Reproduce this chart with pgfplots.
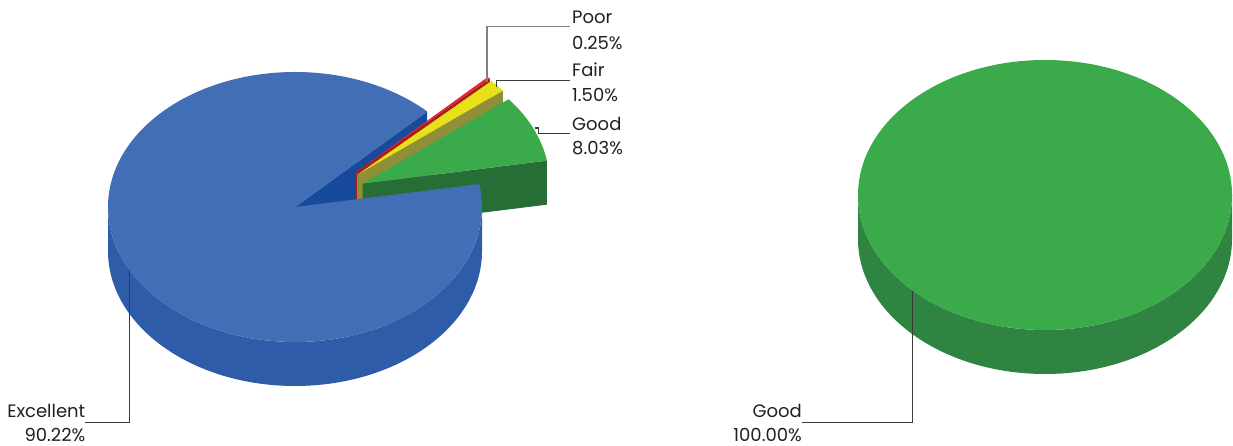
\documentclass[border=0pt]{standalone}
\usepackage{pgfplots}
\pgfplotsset{compat=1.18}
\usepackage{fontspec}
\setmainfont{Poppins}

\definecolor{bluetop}{HTML}{416EB4}
\definecolor{blueside}{HTML}{2E5CA8}
\definecolor{bluecut}{HTML}{184A9C}
\definecolor{greentop}{HTML}{3AAA4A}
\definecolor{greencut}{HTML}{276D36}
\definecolor{greenside}{HTML}{2F8442}
\definecolor{yellowtop}{HTML}{E6E118}
\definecolor{yellowcut}{HTML}{8F8F38}
\definecolor{redtop}{HTML}{E3262B}
\definecolor{redcut}{HTML}{A51E22}
\definecolor{txt}{HTML}{231F20}
\definecolor{lead}{HTML}{3A3A3A}

% pie geometry (pt), 1 axis unit = 1pt
\def\rx{187}
\def\ry{135}
\def\hh{44}

% top face of a wedge: offset ox,oy ; angles a..b ; colour
\newcommand{\wtop}[5]{%
  \fill[#5] (#1pt,#2pt) -- ++(#3:\rx pt and \ry pt)
    arc[start angle=#3, end angle=#4, x radius=\rx pt, y radius=\ry pt] -- cycle;}
% radial cut face at angle a
\newcommand{\wcut}[4]{%
  \fill[#4] (#1pt,#2pt) -- ++(#3:\rx pt and \ry pt) -- ++(0pt,-\hh pt)
    -- ++(#3+180:\rx pt and \ry pt) -- cycle;}
% outer wall between a..b
\newcommand{\wside}[3]{%
  \fill[#3] (#1:\rx pt and \ry pt)
    arc[start angle=#1, end angle=#2, x radius=\rx pt, y radius=\ry pt]
    -- ++(0pt,-\hh pt)
    arc[start angle=#2, end angle=#1, x radius=\rx pt, y radius=\ry pt] -- cycle;}

% shares in percent
\def\pExc{90.22}
\def\pGood{8.03}
\def\pFair{1.50}
\def\pPoor{0.25}

\pgfmathsetmacro\aA{45}
\pgfmathsetmacro\aB{\aA+3.6*\pExc}
\pgfmathsetmacro\aC{\aB+3.6*\pGood}
\pgfmathsetmacro\aD{\aC+3.6*\pFair}
\pgfmathsetmacro\aE{\aD+3.6*\pPoor}

\begin{document}
\begin{tikzpicture}
\begin{axis}[
  width=1233pt, height=446pt, scale only axis,
  xmin=0, xmax=1233, ymin=0, ymax=446,
  hide axis, clip=false,
]
\path (axis cs:0,0) rectangle (axis cs:1233,446);

% left pie
\begin{scope}[shift={(axis cs:295,239)}]
  \wcut{0}{0}{\aA}{bluecut}
  \wside{180}{360}{blueside}
  % Poor
  \wcut{60.5}{34.5}{\aD}{redcut}
  \wtop{60.5}{34.5}{\aD}{\aE}{redtop}
  % Fair
  \wcut{62}{32}{\aC}{yellowcut}
  \wtop{62}{32}{\aC}{\aD}{yellowtop}
  % Good
  \wcut{67.7}{23.4}{\aB}{greencut}
  \wtop{67.7}{23.4}{\aB}{\aC}{greentop}
  % Excellent
  \wtop{0}{0}{\aA}{\aB}{bluetop}
\end{scope}

% right pie
\begin{scope}[shift={(axis cs:1045,251)}]
  \def\ry{136}
  \wside{180}{360}{greenside}
  \fill[greentop] (0,0) ellipse[x radius=\rx pt, y radius=\ry pt];
\end{scope}

% leader lines
\draw[lead, line width=1.1pt] (axis cs:129.3,176) -- (axis cs:129.3,23.7) -- (axis cs:85,23.7);
\draw[lead, line width=1.1pt] (axis cs:912.8,155) -- (axis cs:912.8,23.7) -- (axis cs:801.7,23.7);
\draw[gray, line width=1.1pt] (axis cs:487,364.3) -- (axis cs:487,419.3) -- (axis cs:570,419.3);
\draw[lead, line width=1.1pt] (axis cs:496.7,358.7) -- (axis cs:496.7,365.3) -- (axis cs:570,365.3);
\draw[lead, line width=1.1pt] (axis cs:535,318) -- (axis cs:538.3,318) -- (axis cs:538.3,312.7) -- (axis cs:570,312.7);

% labels
\tikzset{lbl/.style={inner sep=0pt, text=txt, font=\fontsize{18}{21}\selectfont}}
\node[lbl, anchor=base west] at (axis cs:572,422) {Poor};
\node[lbl, anchor=base west] at (axis cs:572,396) {0.25\%};
\node[lbl, anchor=base west] at (axis cs:572,369) {Fair};
\node[lbl, anchor=base west] at (axis cs:572,344) {1.50\%};
\node[lbl, anchor=base west] at (axis cs:572,315) {Good};
\node[lbl, anchor=base west] at (axis cs:572,291) {8.03\%};
\node[lbl, anchor=base east] at (axis cs:85.5,28) {Excellent};
\node[lbl, anchor=base east] at (axis cs:85.5,4) {90.22\%};
\node[lbl, anchor=base east] at (axis cs:802,28) {Good};
\node[lbl, anchor=base east] at (axis cs:802,4) {100.00\%};
\end{axis}
\end{tikzpicture}
\end{document}
